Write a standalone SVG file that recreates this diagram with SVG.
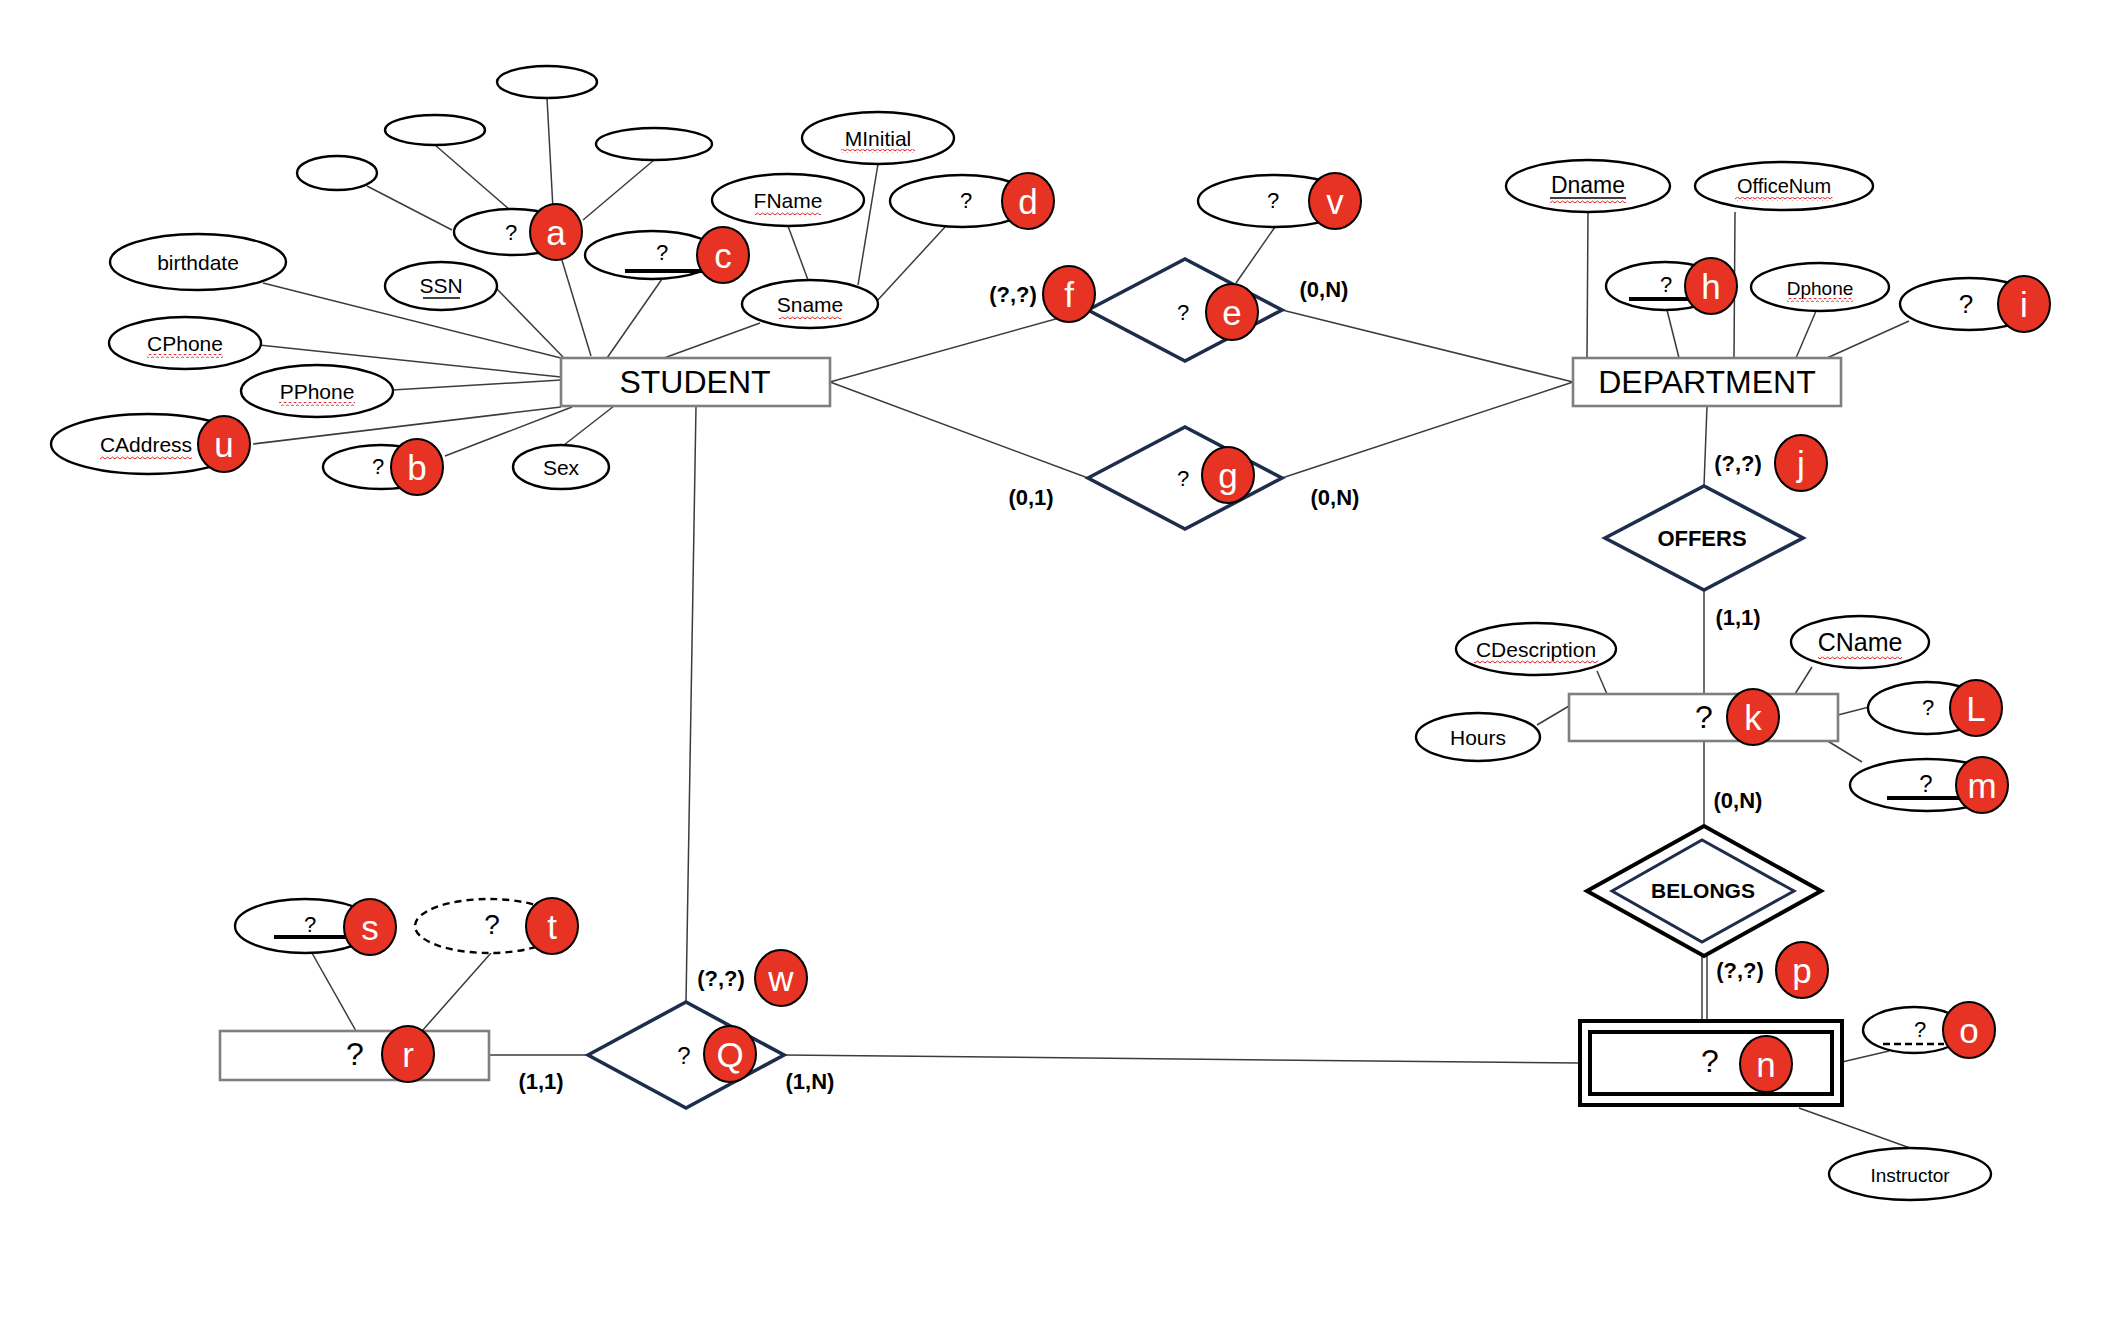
<svg xmlns="http://www.w3.org/2000/svg" width="2116" height="1320" viewBox="0 0 2116 1320">
<defs>
<style>
text{font-family:"Liberation Sans",Arial,sans-serif;text-anchor:middle;dominant-baseline:central;fill:#000}
.attr{fill:#fff;stroke:#000;stroke-width:2.4}
.dash{stroke-dasharray:7 5}
.ent{fill:#fff;stroke:#7f7f7f;stroke-width:2.6}
.rel{fill:#fff;stroke:#1f2d4d;stroke-width:3.6}
.conn line{stroke:#3c3c3c;stroke-width:1.5}
.bd{fill:#e63323;stroke:#000;stroke-width:2}
.bt{fill:#fff;font-size:35px}
.lbl{font-size:21px}
.q{font-size:22px}
.card{font-size:22px;font-weight:bold}
.key{stroke:#000;stroke-width:4}
.ul{stroke:#000;stroke-width:1.6}
.sq{fill:url(#squig)}
</style>
<pattern id="squig" width="5" height="4" patternUnits="userSpaceOnUse">
<path d="M0 3 L2.5 1 L5 3" fill="none" stroke="#e02020" stroke-width="1"/>
</pattern>
</defs>
<rect width="2116" height="1320" fill="#fff"/>

<g id="connectors" class="conn">
<line x1="553" y1="209" x2="547" y2="98"/>
<line x1="510" y1="210" x2="435" y2="145"/>
<line x1="583" y1="220" x2="654" y2="160"/>
<line x1="452" y1="230" x2="367" y2="186"/>
<line x1="561" y1="257" x2="591" y2="356"/>
<line x1="497" y1="289" x2="563" y2="357"/>
<line x1="662" y1="279" x2="607" y2="358"/>
<line x1="760" y1="323" x2="664" y2="358"/>
<line x1="263" y1="283" x2="561" y2="358"/>
<line x1="259" y1="345" x2="561" y2="377"/>
<line x1="392" y1="390" x2="561" y2="380"/>
<line x1="253" y1="444" x2="561" y2="407"/>
<line x1="445" y1="456" x2="572" y2="407"/>
<line x1="564" y1="445" x2="614" y2="406"/>
<line x1="788" y1="226" x2="808" y2="280"/>
<line x1="878" y1="164" x2="858" y2="285"/>
<line x1="945" y1="227" x2="876" y2="302"/>
<line x1="830" y1="382" x2="1088" y2="310"/>
<line x1="830" y1="382" x2="1088" y2="478"/>
<line x1="1282" y1="310" x2="1573" y2="382"/>
<line x1="1282" y1="478" x2="1573" y2="382"/>
<line x1="1275" y1="227" x2="1236" y2="283"/>
<line x1="1588" y1="212" x2="1587" y2="358"/>
<line x1="1735" y1="212" x2="1734" y2="358"/>
<line x1="1667" y1="310" x2="1679" y2="358"/>
<line x1="1816" y1="311" x2="1796" y2="358"/>
<line x1="1909" y1="321" x2="1827" y2="358"/>
<line x1="1707" y1="406" x2="1704" y2="486"/>
<line x1="1704" y1="590" x2="1704" y2="694"/>
<line x1="1597" y1="671" x2="1607" y2="694"/>
<line x1="1812" y1="667" x2="1795" y2="694"/>
<line x1="1537" y1="725" x2="1569" y2="706"/>
<line x1="1869" y1="707" x2="1838" y2="715"/>
<line x1="1862" y1="762" x2="1826" y2="740"/>
<line x1="1704" y1="741" x2="1704" y2="826"/>
<line x1="1702" y1="956" x2="1702" y2="1021"/>
<line x1="1707" y1="956" x2="1707" y2="1021"/>
<line x1="1889" y1="1051" x2="1842" y2="1062"/>
<line x1="1910" y1="1148" x2="1799" y2="1108"/>
<line x1="696" y1="406" x2="686" y2="1002"/>
<line x1="588" y1="1055" x2="489" y2="1055"/>
<line x1="784" y1="1055" x2="1580" y2="1063"/>
<line x1="312" y1="953" x2="356" y2="1031"/>
<line x1="491" y1="953" x2="422" y2="1031"/>
</g>

<g id="attr-empty1"><ellipse class="attr" cx="547" cy="82" rx="50" ry="16"/></g>
<g id="attr-empty2"><ellipse class="attr" cx="435" cy="130" rx="50" ry="15"/></g>
<g id="attr-empty3"><ellipse class="attr" cx="654" cy="144" rx="58" ry="16"/></g>
<g id="attr-empty4"><ellipse class="attr" cx="337" cy="173" rx="40" ry="17"/></g>
<g id="attr-a"><ellipse class="attr" cx="513" cy="232" rx="59" ry="23"/><text class="q" x="511" y="232">?</text></g>
<g id="attr-birthdate"><ellipse class="attr" cx="198" cy="262" rx="88" ry="28"/><text class="lbl" x="198" y="262">birthdate</text></g>
<g id="attr-SSN"><ellipse class="attr" cx="441" cy="286" rx="56" ry="24"/><text class="lbl" x="441" y="285">SSN</text><line class="ul" x1="423" y1="298" x2="460" y2="298"/></g>
<g id="attr-c"><ellipse class="attr" cx="652" cy="255" rx="67" ry="24"/><text class="q" x="662" y="252">?</text><line class="key" x1="625" y1="271" x2="702" y2="271"/></g>
<g id="attr-CPhone"><ellipse class="attr" cx="185" cy="343" rx="76" ry="26"/><text class="lbl" x="185" y="343">CPhone</text><rect class="sq" x="147" y="354" width="76" height="4"/></g>
<g id="attr-PPhone"><ellipse class="attr" cx="317" cy="391" rx="76" ry="26"/><text class="lbl" x="317" y="391">PPhone</text><rect class="sq" x="279" y="402" width="76" height="4"/></g>
<g id="attr-CAddress"><ellipse class="attr" cx="148" cy="444" rx="97" ry="30"/><text class="lbl" x="146" y="444">CAddress</text><rect class="sq" x="100" y="455" width="92" height="4"/></g>
<g id="attr-b"><ellipse class="attr" cx="381" cy="467" rx="58" ry="22"/><text class="q" x="378" y="466">?</text></g>
<g id="attr-Sex"><ellipse class="attr" cx="561" cy="467" rx="48" ry="22"/><text class="lbl" x="561" y="467">Sex</text></g>
<g id="attr-FName"><ellipse class="attr" cx="788" cy="200" rx="76" ry="26"/><text class="lbl" x="788" y="200">FName</text><rect class="sq" x="755" y="211" width="66" height="4"/></g>
<g id="attr-MInitial"><ellipse class="attr" cx="878" cy="138" rx="76" ry="26"/><text class="lbl" x="878" y="138">MInitial</text><rect class="sq" x="841" y="149" width="74" height="4"/></g>
<g id="attr-d"><ellipse class="attr" cx="962" cy="201" rx="72" ry="26"/><text class="q" x="966" y="200">?</text></g>
<g id="attr-Sname"><ellipse class="attr" cx="810" cy="304" rx="68" ry="24"/><text class="lbl" x="810" y="304">Sname</text><rect class="sq" x="779" y="315" width="62" height="4"/></g>

<g id="STUDENT"><rect class="ent" x="561" y="358" width="269" height="48"/><text x="695" y="382" font-size="32">STUDENT</text></g>

<g id="rel-e"><polygon class="rel" points="1088,310 1185,259 1282,310 1185,361"/><text class="q" x="1183" y="312">?</text></g>
<g id="attr-v"><ellipse class="attr" cx="1275" cy="201" rx="77" ry="26"/><text class="q" x="1273" y="200">?</text></g>
<g id="rel-g"><polygon class="rel" points="1088,478 1185,427 1282,478 1185,529"/><text class="q" x="1183" y="478">?</text></g>

<g id="DEPARTMENT"><rect class="ent" x="1573" y="358" width="268" height="48"/><text x="1707" y="382" font-size="32">DEPARTMENT</text></g>
<g id="attr-Dname"><ellipse class="attr" cx="1588" cy="186" rx="82" ry="26"/><text x="1588" y="185" font-size="23">Dname</text><line class="ul" x1="1550" y1="198" x2="1626" y2="198"/><rect class="sq" x="1550" y="199" width="76" height="4"/></g>
<g id="attr-OfficeNum"><ellipse class="attr" cx="1784" cy="186" rx="89" ry="24"/><text x="1784" y="186" font-size="20">OfficeNum</text><rect class="sq" x="1735" y="197" width="98" height="4"/></g>
<g id="attr-h"><ellipse class="attr" cx="1665" cy="286" rx="59" ry="24"/><text class="q" x="1666" y="284">?</text><line class="key" x1="1629" y1="299" x2="1690" y2="299"/></g>
<g id="attr-Dphone"><ellipse class="attr" cx="1820" cy="287" rx="69" ry="24"/><text x="1820" y="288" font-size="19">Dphone</text><rect class="sq" x="1787" y="298" width="66" height="4"/></g>
<g id="attr-i"><ellipse class="attr" cx="1969" cy="304" rx="69" ry="26"/><text x="1966" y="304" font-size="26">?</text></g>

<g id="rel-OFFERS"><polygon class="rel" points="1605,538 1704,486 1803,538 1704,590"/><text x="1702" y="538" font-size="22" font-weight="bold">OFFERS</text></g>

<g id="entity-k"><rect class="ent" x="1569" y="694" width="269" height="47"/><text x="1704" y="717" font-size="32">?</text></g>
<g id="attr-CDescription"><ellipse class="attr" cx="1536" cy="649" rx="80" ry="26"/><text class="lbl" x="1536" y="649">CDescription</text><rect class="sq" x="1474" y="660" width="124" height="4"/></g>
<g id="attr-CName"><ellipse class="attr" cx="1860" cy="642" rx="69" ry="26"/><text x="1860" y="642" font-size="25">CName</text><rect class="sq" x="1818" y="655" width="84" height="4"/></g>
<g id="attr-Hours"><ellipse class="attr" cx="1478" cy="737" rx="62" ry="24"/><text class="lbl" x="1478" y="737">Hours</text></g>
<g id="attr-L"><ellipse class="attr" cx="1927" cy="708" rx="59" ry="26"/><text class="q" x="1928" y="707">?</text></g>
<g id="attr-m"><ellipse class="attr" cx="1927" cy="785" rx="77" ry="26"/><text x="1926" y="783" font-size="24">?</text><line class="key" x1="1887" y1="798" x2="1963" y2="798"/></g>

<g id="rel-BELONGS"><polygon points="1587,891 1704,826 1821,891 1704,956" fill="#fff" stroke="#000" stroke-width="4"/><polygon points="1612,891 1702,840 1794,891 1702,942" fill="#fff" stroke="#1f2d4d" stroke-width="3"/><text x="1703" y="890" font-size="21" font-weight="bold">BELONGS</text></g>

<g id="entity-n"><rect x="1580" y="1021" width="262" height="84" fill="#fff" stroke="#000" stroke-width="4"/><rect x="1590" y="1032" width="242" height="62" fill="#fff" stroke="#000" stroke-width="4"/><text x="1710" y="1061" font-size="32">?</text></g>
<g id="attr-o"><ellipse class="attr" cx="1914" cy="1030" rx="51" ry="23"/><text class="q" x="1920" y="1029">?</text><line x1="1883" y1="1044" x2="1944" y2="1044" stroke="#000" stroke-width="2.5" stroke-dasharray="7 4"/></g>
<g id="attr-Instructor"><ellipse class="attr" cx="1910" cy="1174" rx="81" ry="26"/><text x="1910" y="1175" font-size="19">Instructor</text></g>

<g id="rel-Q"><polygon class="rel" points="588,1055 686,1002 784,1055 686,1108"/><text x="684" y="1055" font-size="24">?</text></g>
<g id="entity-r"><rect class="ent" x="220" y="1031" width="269" height="49"/><text x="355" y="1054" font-size="32">?</text></g>
<g id="attr-s"><ellipse class="attr" cx="305" cy="926" rx="70" ry="27"/><text class="q" x="310" y="924">?</text><line class="key" x1="274" y1="937" x2="350" y2="937"/></g>
<g id="attr-t"><ellipse class="attr dash" cx="489" cy="926" rx="74" ry="27"/><text x="492" y="924" font-size="28">?</text></g>

<g id="cardinalities">
<text class="card" x="1013" y="294">(?,?)</text>
<text class="card" x="1324" y="289">(0,N)</text>
<text class="card" x="1031" y="497">(0,1)</text>
<text class="card" x="1335" y="497">(0,N)</text>
<text class="card" x="1738" y="463">(?,?)</text>
<text class="card" x="1738" y="617">(1,1)</text>
<text class="card" x="1738" y="800">(0,N)</text>
<text class="card" x="1740" y="970">(?,?)</text>
<text class="card" x="721" y="978">(?,?)</text>
<text class="card" x="541" y="1081">(1,1)</text>
<text class="card" x="810" y="1081">(1,N)</text>
</g>

<g id="badges">
<g id="badge-a"><ellipse class="bd" cx="556" cy="232" rx="26" ry="28"/><text class="bt" x="556" y="232">a</text></g>
<g id="badge-b"><ellipse class="bd" cx="417" cy="467" rx="26" ry="28"/><text class="bt" x="417" y="467">b</text></g>
<g id="badge-c"><ellipse class="bd" cx="723" cy="255" rx="26" ry="28"/><text class="bt" x="723" y="255">c</text></g>
<g id="badge-d"><ellipse class="bd" cx="1028" cy="201" rx="26" ry="28"/><text class="bt" x="1028" y="201">d</text></g>
<g id="badge-u"><ellipse class="bd" cx="224" cy="444" rx="26" ry="28"/><text class="bt" x="224" y="444">u</text></g>
<g id="badge-v"><ellipse class="bd" cx="1335" cy="201" rx="26" ry="28"/><text class="bt" x="1335" y="201">v</text></g>
<g id="badge-f"><ellipse class="bd" cx="1069" cy="294" rx="26" ry="28"/><text class="bt" x="1069" y="294">f</text></g>
<g id="badge-e"><ellipse class="bd" cx="1232" cy="312" rx="26" ry="28"/><text class="bt" x="1232" y="312">e</text></g>
<g id="badge-g"><ellipse class="bd" cx="1228" cy="475" rx="26" ry="28"/><text class="bt" x="1228" y="475">g</text></g>
<g id="badge-h"><ellipse class="bd" cx="1711" cy="286" rx="26" ry="28"/><text class="bt" x="1711" y="286">h</text></g>
<g id="badge-i"><ellipse class="bd" cx="2024" cy="304" rx="26" ry="28"/><text class="bt" x="2024" y="304">i</text></g>
<g id="badge-j"><ellipse class="bd" cx="1801" cy="463" rx="26" ry="28"/><text class="bt" x="1801" y="463">j</text></g>
<g id="badge-k"><ellipse class="bd" cx="1753" cy="717" rx="26" ry="28"/><text class="bt" x="1753" y="717">k</text></g>
<g id="badge-L"><ellipse class="bd" cx="1976" cy="708" rx="26" ry="28"/><text class="bt" x="1976" y="708">L</text></g>
<g id="badge-m"><ellipse class="bd" cx="1982" cy="785" rx="26" ry="28"/><text class="bt" x="1982" y="785">m</text></g>
<g id="badge-p"><ellipse class="bd" cx="1802" cy="970" rx="26" ry="28"/><text class="bt" x="1802" y="970">p</text></g>
<g id="badge-o"><ellipse class="bd" cx="1969" cy="1030" rx="26" ry="28"/><text class="bt" x="1969" y="1030">o</text></g>
<g id="badge-n"><ellipse class="bd" cx="1766" cy="1064" rx="26" ry="28"/><text class="bt" x="1766" y="1064">n</text></g>
<g id="badge-w"><ellipse class="bd" cx="781" cy="978" rx="26" ry="28"/><text class="bt" x="781" y="978">w</text></g>
<g id="badge-Q"><ellipse class="bd" cx="730" cy="1054" rx="26" ry="28"/><text class="bt" x="730" y="1054">Q</text></g>
<g id="badge-r"><ellipse class="bd" cx="408" cy="1054" rx="26" ry="28"/><text class="bt" x="408" y="1054">r</text></g>
<g id="badge-s"><ellipse class="bd" cx="370" cy="927" rx="26" ry="28"/><text class="bt" x="370" y="927">s</text></g>
<g id="badge-t"><ellipse class="bd" cx="552" cy="926" rx="26" ry="28"/><text class="bt" x="552" y="926">t</text></g>
</g>
</svg>
